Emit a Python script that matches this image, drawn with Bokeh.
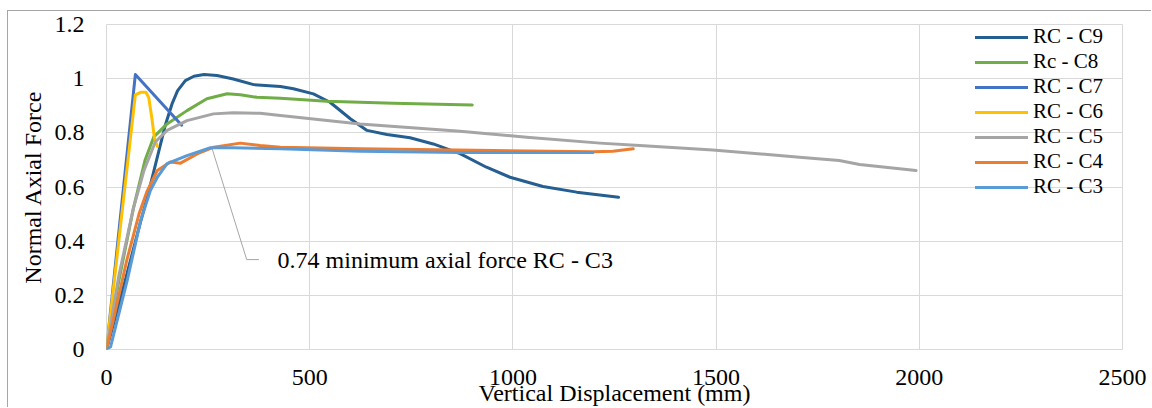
from bokeh.plotting import figure
from bokeh.models import (Range1d, FixedTicker, CustomJSTickFormatter, Legend, LegendItem, Label)
from bokeh.embed import file_html
from bokeh.resources import INLINE

# ---- data ----
x_ticks = [0, 500, 1000, 1500, 2000, 2500]
y_ticks = [0, 0.2, 0.4, 0.6, 0.8, 1.0, 1.2]

c9_x = [0, 40, 80, 100, 120, 145, 162, 175, 194, 215, 240, 272, 312, 362, 428, 460, 509, 550, 600, 641, 690, 747, 804, 870, 935, 993, 1074, 1157, 1260]
c9_y = [0, 0.22, 0.45, 0.56, 0.68, 0.83, 0.91, 0.956, 0.993, 1.009, 1.015, 1.012, 0.999, 0.978, 0.971, 0.963, 0.944, 0.913, 0.852, 0.809, 0.794, 0.782, 0.759, 0.723, 0.673, 0.636, 0.602, 0.581, 0.562]

c8_x = [0, 30, 66, 95, 116, 149, 198, 247, 297, 329, 370, 428, 542, 706, 900]
c8_y = [0, 0.25, 0.52, 0.70, 0.784, 0.833, 0.882, 0.926, 0.944, 0.941, 0.931, 0.928, 0.917, 0.909, 0.903]

c7_x = [0, 71, 185]
c7_y = [0, 1.015, 0.828]

c6_x = [0, 71, 85, 97, 104, 112, 118, 125]
c6_y = [0, 0.94, 0.95, 0.95, 0.93, 0.85, 0.78, 0.75]

c5_x = [0, 30, 66, 92, 120, 149, 198, 263, 312, 378, 428, 624, 870, 1034, 1214, 1312, 1492, 1705, 1803, 1853, 1992]
c5_y = [0, 0.27, 0.52, 0.66, 0.766, 0.809, 0.845, 0.87, 0.874, 0.872, 0.864, 0.833, 0.806, 0.784, 0.762, 0.753, 0.737, 0.71, 0.698, 0.683, 0.661]

c4_x = [0, 20, 50, 80, 100, 125, 157, 182, 223, 264, 329, 378, 428, 624, 952, 1197, 1246, 1296]
c4_y = [0, 0.13, 0.33, 0.50, 0.585, 0.661, 0.692, 0.688, 0.722, 0.747, 0.762, 0.753, 0.747, 0.741, 0.735, 0.73, 0.732, 0.741]

c3_x = [0, 10, 51, 84, 108, 125, 149, 198, 256, 312, 428, 624, 870, 1197]
c3_y = [0, 0.01, 0.255, 0.476, 0.587, 0.636, 0.686, 0.716, 0.745, 0.745, 0.741, 0.732, 0.727, 0.727]

series_names = ["RC - C9", "Rc - C8", "RC - C7", "RC - C6", "RC - C5", "RC - C4", "RC - C3"]
series_x = [c9_x, c8_x, c7_x, c6_x, c5_x, c4_x, c3_x]
series_y = [c9_y, c8_y, c7_y, c6_y, c5_y, c4_y, c3_y]
colors = ["#255E91", "#70AD47", "#4472C4", "#FFC000", "#A5A5A5", "#ED7D31", "#5B9BD5"]

annotation_text = "0.74 minimum axial force RC - C3"
x_title = "Vertical Displacement (mm)"
y_title = "Normal Axial Force"

FONT = "Liberation Serif"
FS = "24px"
GRID = "#d9d9d9"

p = figure(width=1144, height=397, output_backend="svg", toolbar_location=None,
           x_range=Range1d(0, 2500), y_range=Range1d(0, 1.2),
           min_border_left=98, min_border_top=13, min_border_right=30, min_border_bottom=59,
           styles={"margin-left": "7px", "margin-top": "10px",
                   "border-left": "1px solid #a6a6a6", "border-top": "1px solid #a6a6a6"})
p.outline_line_color = GRID
p.background_fill_color = "white"
p.border_fill_color = "white"

p.xaxis.ticker = FixedTicker(ticks=x_ticks)
p.yaxis.ticker = FixedTicker(ticks=y_ticks)
p.yaxis.formatter = CustomJSTickFormatter(code="return String(Math.round(tick*10)/10);")
p.axis.axis_line_color = None
p.axis.major_tick_line_color = None
p.axis.minor_tick_line_color = None
p.axis.major_label_text_font = FONT
p.axis.major_label_text_font_size = FS
p.axis.major_label_text_color = "#000000"
p.axis.axis_label_text_font = FONT
p.axis.axis_label_text_font_size = FS
p.axis.axis_label_text_font_style = "normal"
p.axis.axis_label_text_color = "#000000"
p.xaxis.axis_label = x_title
p.yaxis.axis_label = y_title
p.xaxis.major_label_standoff = 14
p.xaxis.axis_label_standoff = -8
p.yaxis.major_label_standoff = 16
p.yaxis.axis_label_standoff = 6

p.xgrid.grid_line_color = GRID
p.ygrid.grid_line_color = GRID
p.xgrid.grid_line_width = 1
p.ygrid.grid_line_width = 1

# leader line + annotation
p.line([260, 345, 375], [0.741, 0.332, 0.332], line_color="#a6a6a6", line_width=1)
p.add_layout(Label(x=421, y=0.332, text=annotation_text, text_font=FONT, text_font_size=FS,
                   text_color="#000000", text_baseline="middle", text_align="left"))

items = []
for name, xs, ys, c in zip(series_names, series_x, series_y, colors):
    r = p.line(xs, ys, line_color=c, line_width=3, line_join="round", line_cap="round")
    items.append(LegendItem(label=name, renderers=[r]))

legend = Legend(items=items, location=(869, 150), orientation="vertical",
                label_text_font=FONT, label_text_font_size="21px", label_text_color="#000000",
                glyph_width=53, glyph_height=20, label_height=20, spacing=0,
                label_standoff=5, padding=0, margin=0,
                border_line_color=None, background_fill_alpha=0)
p.add_layout(legend)

open("out.html", "w").write(file_html(p, INLINE))
